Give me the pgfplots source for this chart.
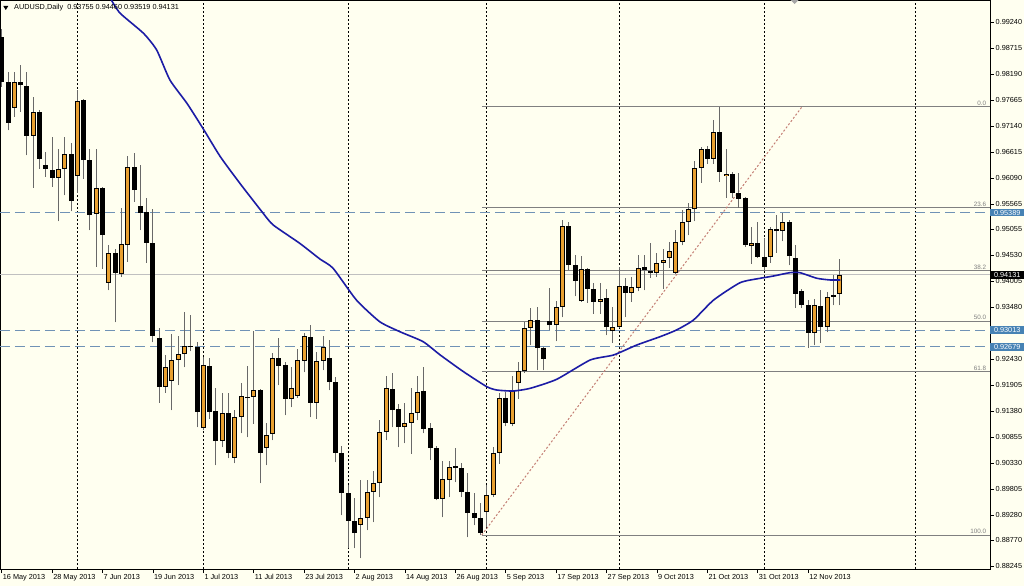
\documentclass[border=0pt]{standalone}
\usepackage{pgfplots}
\usepackage{pgfplotstable}
\pgfplotsset{compat=1.18}
\usepackage{fontspec}
\setmainfont{Liberation Sans}

\definecolor{bgcol}{RGB}{255,255,240}
\definecolor{bullcol}{RGB}{232,160,48}
\definecolor{wickcol}{RGB}{105,105,105}
\definecolor{macol}{RGB}{28,28,165}
\definecolor{levcol}{RGB}{112,146,182}
\definecolor{lblblue}{RGB}{70,130,180}
\definecolor{fibcol}{RGB}{128,128,128}
\definecolor{bidcol}{RGB}{192,192,192}
\definecolor{trendcol}{RGB}{195,125,115}

% bullish candles: index, open, high, low, close
\pgfplotstableread{
i o h l c
2 0.97503 0.98230 0.97321 0.98028
5 0.96937 0.97725 0.95887 0.97422
9 0.96089 0.96675 0.95220 0.96271
10 0.96271 0.96917 0.95745 0.96574
12 0.96129 0.97866 0.95786 0.97644
15 0.95362 0.96675 0.94291 0.95887
17 0.93968 0.94735 0.93826 0.94574
19 0.94150 0.95483 0.94089 0.94756
20 0.94735 0.96533 0.94392 0.96311
26 0.91867 0.92513 0.91746 0.92271
27 0.91988 0.92938 0.91402 0.92412
28 0.92412 0.92897 0.91907 0.92534
29 0.92534 0.93382 0.92271 0.92695
32 0.91039 0.92473 0.90998 0.92311
35 0.90776 0.91746 0.90655 0.91342
37 0.90433 0.91402 0.90332 0.91261
38 0.91261 0.91948 0.90938 0.91685
40 0.91665 0.92998 0.91120 0.91806
42 0.90635 0.91140 0.90291 0.90897
43 0.90918 0.92554 0.90796 0.92453
46 0.91625 0.92271 0.91463 0.91847
47 0.91685 0.92635 0.91645 0.92412
48 0.92392 0.92958 0.92170 0.92897
50 0.91544 0.92574 0.91221 0.92392
51 0.92392 0.92897 0.92210 0.92675
57 0.89079 0.89988 0.88413 0.89221
58 0.89221 0.89988 0.88978 0.89746
59 0.89746 0.90170 0.89140 0.89928
60 0.89928 0.91200 0.89645 0.90958
61 0.90958 0.92089 0.90796 0.91847
64 0.91059 0.91544 0.90736 0.91140
65 0.91140 0.91847 0.90514 0.91342
66 0.91342 0.92089 0.91200 0.91766
70 0.89605 0.90372 0.89241 0.90009
71 0.89988 0.90372 0.89645 0.90251
77 0.89342 0.89887 0.89039 0.89685
78 0.89685 0.90655 0.89645 0.90534
79 0.90534 0.91746 0.90312 0.91645
81 0.91120 0.92089 0.91079 0.91806
82 0.91948 0.92372 0.91625 0.92190
83 0.92190 0.93180 0.92150 0.93059
84 0.93059 0.93463 0.92715 0.93220
88 0.93119 0.93604 0.92796 0.93483
89 0.93483 0.95240 0.93281 0.95119
92 0.93604 0.94513 0.93584 0.94251
95 0.93584 0.93968 0.93342 0.93635
97 0.92998 0.93483 0.92756 0.93079
98 0.93079 0.94291 0.93059 0.93907
100 0.93766 0.94089 0.93584 0.93887
101 0.93867 0.94533 0.93806 0.94271
104 0.94170 0.94574 0.94089 0.94372
105 0.94372 0.94655 0.93847 0.94432
106 0.94473 0.94796 0.94271 0.94614
107 0.94170 0.95038 0.94150 0.94796
108 0.94796 0.95442 0.94735 0.95200
109 0.95200 0.95584 0.94937 0.95463
110 0.95463 0.96432 0.95220 0.96291
111 0.96291 0.96715 0.95988 0.96675
113 0.96473 0.97260 0.96372 0.97018
115 0.96129 0.96675 0.95685 0.96170
119 0.94715 0.95099 0.94352 0.94776
122 0.94493 0.95099 0.94372 0.95059
124 0.95018 0.95382 0.94816 0.95200
129 0.92958 0.93645 0.92715 0.93523
131 0.93079 0.93786 0.92978 0.93685
132 0.93685 0.94129 0.93523 0.93725
133 0.93755 0.94460 0.93519 0.94131
}\bull

% bearish candles: index, open, high, low, close
\pgfplotstableread{
i o h l c
0 0.98937 0.99099 0.97927 0.98028
1 0.98028 0.98230 0.97058 0.97200
3 0.98028 0.98371 0.97422 0.97957
4 0.97947 0.98230 0.96553 0.96937
6 0.97422 0.97462 0.96271 0.96473
7 0.96351 0.96614 0.96109 0.96271
8 0.96250 0.96917 0.95907 0.96089
11 0.96574 0.96796 0.95422 0.95624
13 0.97664 0.97685 0.96069 0.96452
14 0.96452 0.96675 0.95038 0.95341
16 0.95887 0.95907 0.94251 0.94937
18 0.94574 0.94655 0.93180 0.94170
21 0.96311 0.96594 0.95604 0.95846
22 0.95523 0.96351 0.95038 0.95382
23 0.95402 0.95685 0.94372 0.94776
24 0.94776 0.95463 0.92776 0.92897
25 0.92857 0.93059 0.91544 0.91867
30 0.92695 0.93321 0.92594 0.92665
31 0.92675 0.92776 0.91059 0.91362
33 0.92291 0.92453 0.91221 0.91362
34 0.91382 0.91847 0.90291 0.90776
36 0.91342 0.91746 0.90433 0.90534
39 0.91665 0.92291 0.90857 0.91635
41 0.91806 0.91827 0.89928 0.90534
44 0.92453 0.92857 0.91907 0.92291
45 0.92311 0.92372 0.91301 0.91625
49 0.92877 0.93119 0.91261 0.91544
52 0.92453 0.92816 0.91806 0.91968
53 0.91968 0.92069 0.90352 0.90534
54 0.90534 0.90675 0.89281 0.89726
55 0.89726 0.89887 0.88615 0.89160
56 0.89160 0.89625 0.88615 0.88918
62 0.91827 0.92150 0.91059 0.91402
63 0.91423 0.91524 0.90655 0.91059
67 0.91786 0.92271 0.90938 0.91019
68 0.91039 0.91140 0.90392 0.90635
69 0.90635 0.90675 0.89584 0.89605
72 0.90271 0.90635 0.89948 0.90231
73 0.90231 0.90332 0.89645 0.89746
74 0.89746 0.90130 0.88837 0.89322
75 0.89322 0.89726 0.89079 0.89221
76 0.89221 0.89524 0.88877 0.88918
80 0.91645 0.91766 0.91079 0.91140
85 0.93220 0.93483 0.92210 0.92655
86 0.92655 0.92675 0.92210 0.92433
87 0.93200 0.93867 0.93018 0.93119
90 0.95119 0.95200 0.94230 0.94331
91 0.94331 0.94533 0.93705 0.94008
93 0.94251 0.94271 0.93564 0.93847
94 0.93847 0.93968 0.93342 0.93584
96 0.93665 0.93847 0.92917 0.93079
99 0.93907 0.94069 0.93281 0.93766
102 0.94291 0.94533 0.93826 0.94230
103 0.94210 0.94776 0.94069 0.94170
112 0.96675 0.96735 0.96372 0.96473
114 0.97018 0.97523 0.96008 0.96210
116 0.96170 0.96210 0.95685 0.95786
117 0.95786 0.96190 0.95483 0.95665
118 0.95685 0.95705 0.94695 0.94735
120 0.94776 0.95200 0.94473 0.94493
121 0.94493 0.94877 0.94230 0.94291
123 0.95059 0.95341 0.94574 0.95018
125 0.95200 0.95240 0.94331 0.94513
126 0.94473 0.94735 0.93463 0.93746
127 0.93806 0.93847 0.93463 0.93523
128 0.93523 0.93624 0.92655 0.92958
130 0.93503 0.93826 0.92756 0.93079
}\bear

% moving average
\pgfplotstableread{
i ma
17.4 0.99684
18.8 0.99416
22.5 0.99012
24.6 0.98674
26.7 0.98068
29.4 0.97598
32.0 0.97079
34.7 0.96519
37.8 0.95982
41.5 0.95376
43.1 0.95139
47.3 0.94770
50.5 0.94453
52.6 0.94265
56.3 0.93624
60.0 0.93186
63.2 0.92984
66.9 0.92782
69.6 0.92514
73.3 0.92176
77.0 0.91873
78.6 0.91806
81.2 0.91786
83.9 0.91841
88.1 0.92023
93.4 0.92412
97.1 0.92513
100.8 0.92715
104.5 0.92883
107.1 0.93018
109.8 0.93220
113.0 0.93624
117.2 0.93974
120.4 0.94063
122.5 0.94109
125.1 0.94176
126.7 0.94176
129.4 0.94063
131.5 0.94029
133.1 0.94029
}\ma

\begin{document}
\begin{tikzpicture}[x=1pt,y=1pt]
\path[use as bounding box, fill=bgcol] (0,0) rectangle (1024,586);
\begin{axis}[
  at={(0pt,17pt)}, anchor=south west,
  scale only axis, width=990pt, height=569pt,
  xmin=-0.27, xmax=156.87, ymin=0.88191, ymax=0.99684,
  axis background/.style={fill=bgcol},
  axis line style={black, line width=0.8pt},
  clip mode=individual,
  tick align=outside,
  xtick pos=left, ytick pos=right, yticklabel pos=right,
  major tick length=4pt,
  tick style={black, line width=0.6pt},
  xtick={0,8,...,128},
  xticklabels={16 May 2013,28 May 2013,7 Jun 2013,19 Jun 2013,1 Jul 2013,11 Jul 2013,23 Jul 2013,2 Aug 2013,14 Aug 2013,26 Aug 2013,5 Sep 2013,17 Sep 2013,27 Sep 2013,9 Oct 2013,21 Oct 2013,31 Oct 2013,12 Nov 2013},
  ytick={0.99240,0.98715,0.98190,0.97665,0.97140,0.96615,0.96090,0.95565,0.95055,0.94530,0.94005,0.93480,0.92955,0.92430,0.91905,0.91380,0.90855,0.90330,0.89805,0.89280,0.88770,0.88245},
  yticklabels={0.99240,0.98715,0.98190,0.97665,0.97140,0.96615,0.96090,0.95565,0.95055,0.94530,0.94005,0.93480,,0.92430,0.91905,0.91380,0.90855,0.90330,0.89805,0.89280,0.88770,0.88245},
  xticklabel style={anchor=north west, inner xsep=0pt, inner ysep=1pt, xshift=1pt, font=\fontsize{7.3}{8.5}\selectfont},
  yticklabel style={anchor=west, inner xsep=1.5pt, font=\fontsize{7.3}{8.5}\selectfont},
  extra x ticks={12,32,55,77,98,121,145},
  extra x tick labels={},
  extra x tick style={grid=major, major tick length=0pt,
    major grid style={black, line width=0.7pt, dash pattern=on 2pt off 2pt}},
  candle/.style={only marks, mark=*, mark size=0pt, mark options={draw=none, fill=none},
    error bars/.cd, y dir=plus, y explicit, error mark=none},
]
% bid line and horizontal levels
\addplot[bidcol, line width=1pt] coordinates {(-0.27,0.94131) (156.87,0.94131)};
\addplot[levcol, line width=1pt, dash pattern=on 10pt off 5pt] coordinates {(-0.27,0.95389) (156.87,0.95389)};
\addplot[levcol, line width=1pt, dash pattern=on 10pt off 5pt] coordinates {(-0.27,0.93013) (156.87,0.93013)};
\addplot[levcol, line width=1pt, dash pattern=on 10pt off 5pt] coordinates {(-0.27,0.92679) (156.87,0.92679)};
% fibonacci levels
\addplot[fibcol, line width=1pt] coordinates {(76.2,0.97523) (156.87,0.97523)};
\addplot[fibcol, line width=1pt] coordinates {(76.2,0.95483) (156.87,0.95483)};
\addplot[fibcol, line width=1pt] coordinates {(76.2,0.94220) (156.87,0.94220)};
\addplot[fibcol, line width=1pt] coordinates {(76.2,0.93200) (156.87,0.93200)};
\addplot[fibcol, line width=1pt] coordinates {(76.2,0.92180) (156.87,0.92180)};
\addplot[fibcol, line width=1pt] coordinates {(76.2,0.88877) (156.87,0.88877)};
\addplot[trendcol, line width=1pt, dash pattern=on 2pt off 2pt] coordinates {(76.2,0.88877) (127,0.97523)};
% wicks
\addplot[candle, error bar style={line width=1pt, wickcol, solid}]
  table[x=i, y=l, y error expr=\thisrow{h}-\thisrow{l}] {\bull};
\addplot[candle, error bar style={line width=1pt, wickcol, solid}]
  table[x=i, y=l, y error expr=\thisrow{h}-\thisrow{l}] {\bear};
% bodies
\addplot[candle, error bar style={line width=5pt, black, solid}]
  table[x=i, y=o, y error expr=\thisrow{c}-\thisrow{o}] {\bull};
\addplot[candle, error bar style={line width=3pt, bullcol, solid}]
  table[x=i, y expr=\thisrow{o}+0.0002, y error expr={max(\thisrow{c}-\thisrow{o}-0.0004,0)}] {\bull};
\addplot[candle, error bar style={line width=5pt, black, solid}]
  table[x=i, y=c, y error expr=\thisrow{o}-\thisrow{c}] {\bear};
% moving average
\addplot[macol, line width=1.6pt, line join=round, smooth, tension=0.35] table[x=i, y=ma] {\ma};

% fib labels
\begin{scope}[every node/.style={anchor=south east, inner sep=0.8pt, text=fibcol, font=\fontsize{6.3}{7}\selectfont}]
\node at (axis cs:156.4,0.97523) {0.0};
\node at (axis cs:156.4,0.95483) {23.6};
\node at (axis cs:156.4,0.94220) {38.2};
\node at (axis cs:156.4,0.93200) {50.0};
\node at (axis cs:156.4,0.92180) {61.8};
\node at (axis cs:156.4,0.88877) {100.0};
\end{scope}
% price boxes
\begin{scope}[every node/.style={anchor=west, minimum width=34pt, inner xsep=1pt, inner ysep=1.2pt, text=white, font=\fontsize{7.3}{8.5}\selectfont}]
\node[fill=lblblue] at (axis cs:156.87,0.95389) {0.95389};
\node[fill=lblblue] at (axis cs:156.87,0.93013) {0.93013};
\node[fill=lblblue] at (axis cs:156.87,0.92679) {0.92679};
\node[fill=black] at (axis cs:156.87,0.94131) {0.94131};
\end{scope}
% title
\fill[black] (axis cs:0.25,0.99563) -- (axis cs:1.05,0.99563) -- (axis cs:0.65,0.99482) -- cycle;
\node[anchor=west, inner sep=0pt, font=\fontsize{7.3}{8.5}\selectfont] at (axis cs:1.95,0.99523) {AUDUSD,Daily\ \ 0.93755 0.94460 0.93519 0.94131};
\fill[black!35] (axis cs:125.2,0.99684) -- (axis cs:126.5,0.99684) -- (axis cs:125.85,0.99603) -- cycle;
\end{axis}
\end{tikzpicture}
\end{document}
